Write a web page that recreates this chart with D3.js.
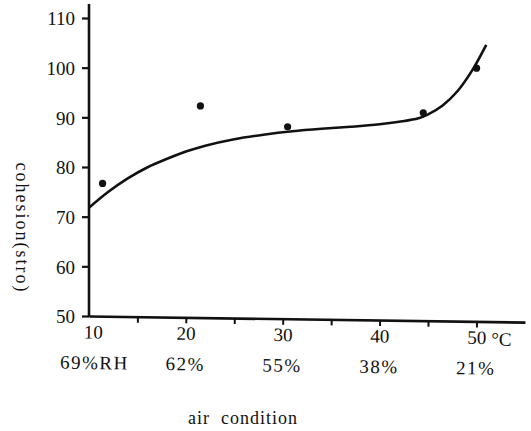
<!DOCTYPE html>
<html>
<head>
<meta charset="utf-8">
<script src="https://cdn.jsdelivr.net/npm/d3@7"></script>
<style>
  body { margin: 0; background: #fff; }
</style>
</head>
<body>
<div id="chart"></div>
<script>
// measured points (temperature °C, cohesion)
const pointX = [11.4, 21.5, 30.5, 44.5, 50.0];
const pointY = [76.7, 92.3, 88.1, 90.9, 99.9];

// fitted curve
const curveX = [10, 12, 14, 16, 18, 20, 22, 25, 28, 31, 34, 37, 40, 42, 44, 45, 46.5, 48, 49.5, 51];
const curveY = [71.8, 75.0, 77.7, 79.9, 81.6, 83.1, 84.3, 85.6, 86.5, 87.2, 87.7, 88.1, 88.6, 89.1, 89.8, 90.6, 92.4, 95.2, 99.3, 104.6];

// axis ticks and labels
const yTicks = [50, 60, 70, 80, 90, 100, 110];
const xTicks = [10, 15, 20, 25, 30, 35, 40, 45, 50];
const tempLabels = ["10", "20", "30", "40", "50"];
const rhLabels = ["69%RH", "62%", "55%", "38%", "21%"];

const width = 531, height = 431;
const serif = "'Liberation Serif', 'Times New Roman', 'DejaVu Serif', serif";

const svg = d3.select("#chart").append("svg")
    .attr("width", width)
    .attr("height", height)
    .attr("font-family", serif);

const x = d3.scaleLinear().domain([10, 55]).range([89, 525]);
const y = d3.scaleLinear().domain([50, 110]).range([316, 18]);

// Y axis
const yAxis = svg.append("g")
    .attr("transform", "translate(89,0)")
    .call(d3.axisLeft(y).tickValues(yTicks).tickSize(7).tickSizeOuter(0).tickPadding(7))
    .attr("font-family", serif)
    .attr("font-size", 19);
yAxis.select(".domain").remove();
yAxis.selectAll(".tick line").attr("stroke", "#111").attr("stroke-width", 2.2);
yAxis.selectAll(".tick text")
    .attr("fill", "#111")
    .attr("dy", "0.36em");
svg.append("line")
    .attr("x1", 89).attr("x2", 89)
    .attr("y1", y(50) + 1).attr("y2", 4)
    .attr("stroke", "#111").attr("stroke-width", 2.6);

// X axis (scan is slightly tilted)
const xg = svg.append("g")
    .attr("transform", "translate(0,316) rotate(0.8,89,0)");
xg.call(d3.axisBottom(x).tickValues(xTicks).tickSize(6).tickSizeOuter(0).tickPadding(3)
    .tickFormat(d => d % 10 === 0 ? d : ""))
    .attr("font-family", serif)
    .attr("font-size", 19);
xg.select(".domain").attr("stroke", "#111").attr("stroke-width", 2.6);
xg.selectAll(".tick line")
    .attr("stroke", "#111").attr("stroke-width", 2)
    .attr("display", d => d === 10 ? "none" : null);
xg.selectAll(".tick text")
    .attr("fill", "#111")
    .attr("dx", d => d === 10 ? 4 : 0);

xg.append("text")
    .attr("x", x(50) + 15)
    .attr("y", 24)
    .attr("text-anchor", "start")
    .attr("fill", "#111")
    .text("°C");

xg.selectAll(".rh")
    .data(rhLabels)
    .enter()
    .append("text")
    .attr("class", "rh")
    .attr("x", (d, i) => x(+tempLabels[i]) + (i === 0 ? 6 : 0))
    .attr("y", 53)
    .attr("text-anchor", "middle")
    .attr("fill", "#111")
    .style("letter-spacing", "1.5px")
    .text(d => d);

// fitted curve
const line = d3.line()
    .x(d => x(d[0]))
    .y(d => y(d[1]))
    .curve(d3.curveCatmullRom.alpha(0.5));

svg.append("path")
    .datum(curveX.map((v, i) => [v, curveY[i]]))
    .attr("fill", "none")
    .attr("stroke", "#111")
    .attr("stroke-width", 2.6)
    .attr("d", line);

// points
svg.selectAll(".pt")
    .data(pointX.map((v, i) => [v, pointY[i]]))
    .enter()
    .append("circle")
    .attr("class", "pt")
    .attr("cx", d => x(d[0]))
    .attr("cy", d => y(d[1]))
    .attr("r", 3.6)
    .attr("fill", "#111");

// axis titles
svg.append("text")
    .attr("transform", "translate(16,228) rotate(90)")
    .attr("text-anchor", "middle")
    .attr("font-size", 18)
    .attr("fill", "#111")
    .style("letter-spacing", "2px")
    .text("cohesion(stro)");

svg.append("text")
    .attr("x", 243)
    .attr("y", 424)
    .attr("text-anchor", "middle")
    .attr("font-size", 18)
    .attr("fill", "#111")
    .style("letter-spacing", "1px")
    .style("white-space", "pre")
    .text("air  condition");
</script>
</body>
</html>
